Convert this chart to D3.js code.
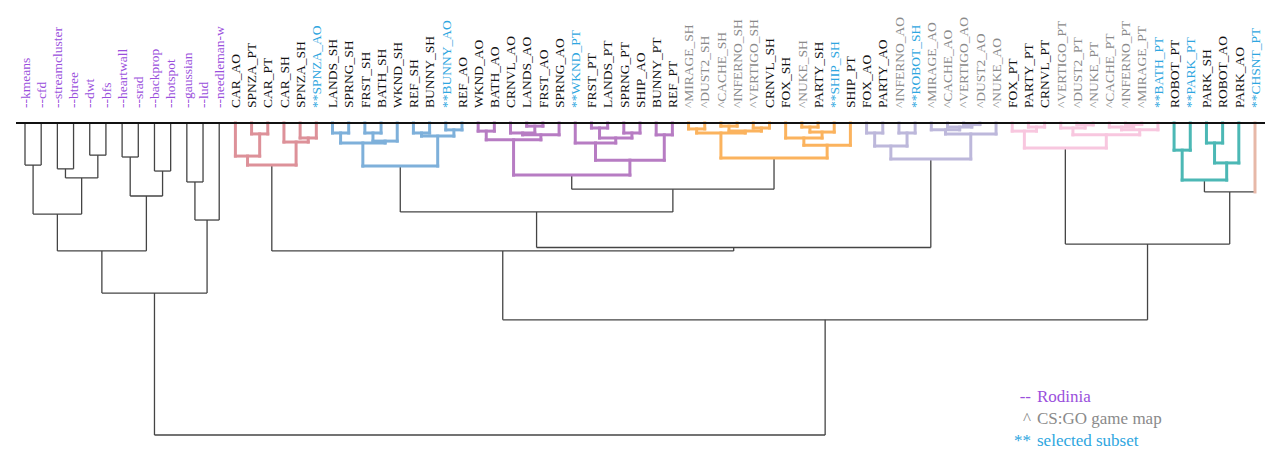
<!DOCTYPE html>
<html lang="en">

<head>
    <meta charset="UTF-8">
    <title>Dendrogram</title>
    <script src="https://cdn.jsdelivr.net/npm/d3@7"></script>
    <style>
        body {
            margin: 0;
            background: #fff;
        }

        text {
            font-family: "Liberation Serif", "Times New Roman", serif;
        }
    </style>
</head>

<body>
    <div id="chart"></div>

    <script>
        const W = 1280,
            H = 467

        // merge heights (root = 10), nested as [height, left, right], leaves are labels
        const rodinia = [5.45,
            [4.10,
                [2.92, [1.35, "--kmeans", "--cfd"],
                    [1.76, [1.47, "--streamcluster", "--btree"], [1.03, "--dwt", "--bfs"]]
                ],
                [2.34, [1.09, "--heartwall", "--srad"], [1.54, "--backprop", "--hotspot"]]
            ],
            [3.11, [1.89, "--gaussian", "--lud"], "--needleman-w"]
        ]
        const red = [1.35, [1.06, "CAR_AO", [0.35, "SPNZA_PT", "CAR_PT"]],
            [0.61, "CAR_SH", [0.48, "SPNZA_SH", "**SPNZA_AO"]]
        ]
        const blue = [1.38,
            [0.64, [0.32, "LANDS_SH", "SPRNG_SH"], [0.58, [0.32, "FRST_SH", "BATH_SH"], "WKND_SH"]],
            [0.42, [0.32, "REF_SH", "BUNNY_SH"], [0.22, "**BUNNY_AO", "REF_AO"]]
        ]
        const purple = [1.67,
            [0.54, [0.26, "WKND_AO", "BATH_AO"],
                [0.38, [0.32, "CRNVL_AO", [0.10, "LANDS_AO", "FRST_AO"]], "SPRNG_AO"]
            ],
            [1.19, [0.64, "**WKND_PT", [0.48, [0.16, "FRST_PT", "LANDS_PT"], [0.32, "SPRNG_PT", "SHIP_AO"]]],
                [0.38, "BUNNY_PT", "REF_PT"]
            ]
        ]
        const orange = [1.12,
            [0.32, [0.19, "^MIRAGE_SH", "^DUST2_SH"],
                [0.26, [0.10, "^CACHE_SH", "^INFERNO_SH"], [0.16, "^VERTIGO_SH", "CRNVL_SH"]]
            ],
            [0.71, [0.48, "FOX_SH", [0.29, [0.13, "^NUKE_SH", "PARTY_SH"], "**SHIP_SH"]], "SHIP_PT"]
        ]
        const lavender = [1.15,
            [0.74, [0.32, "FOX_AO", "PARTY_AO"], [0.32, "^INFERNO_AO", "**ROBOT_SH"]],
            [0.35, [0.22, "^MIRAGE_AO", [0.13, "^CACHE_AO", [0.05, "^VERTIGO_AO", "^DUST2_AO"]]], "^NUKE_AO"]
        ]
        const pink = [0.80,
            [0.26, "FOX_PT", [0.13, "PARTY_PT", "CRNVL_PT"]],
            [0.38, [0.16, "^VERTIGO_PT", [0.06, "^DUST2_PT", "^NUKE_PT"]],
                [0.22, [0.13, "^CACHE_PT", [0.05, "^INFERNO_PT", "^MIRAGE_PT"]], "**BATH_PT"]
            ]
        ]
        const teal = [1.83, [0.87, "ROBOT_PT", "**PARK_PT"],
            [1.28, [0.64, "PARK_SH", "ROBOT_AO"], "PARK_AO"]
        ]
        const tree = [10,
            rodinia,
            [6.31,
                [4.10, red, [3.99, [2.85, blue, [2.12, purple, orange]], lavender]],
                [3.88, pink, [2.21, teal, "**CHSNT_PT"]]
            ]
        ]

        // first leaf of each coloured cluster
        const clusterFirst = ["CAR_AO", "LANDS_SH", "WKND_AO", "^MIRAGE_SH", "FOX_AO", "FOX_PT", "ROBOT_PT", "**CHSNT_PT"]
        const palette = ["#dd9199", "#7eb0da", "#b77cc3", "#fbb35e", "#bdb8db", "#f8c7df", "#4cb8b5", "#e7b8a8"]

        const legendSymbols = ["--", "^", "**"]
        const legendLabels = ["Rodinia", "CS:GO game map", "selected subset"]

        const labelColor = name => name.startsWith("--") ? "#9a4fdc" :
            name.startsWith("^") ? "#8a8a8a" :
            name.startsWith("**") ? "#2ea6e0" : "#111"

        const root = d3.hierarchy(tree, d => Array.isArray(d) ? d.slice(1) : null)
        const leaves = root.leaves()
        const leafNames = leaves.map(d => d.data)

        const x = d3.scalePoint().domain(leafNames).range([25, 1255])
        const y = d3.scaleLinear().domain([0, 10]).range([123, 435])

        const firstIdx = clusterFirst.map(n => leafNames.indexOf(n))
        root.eachAfter(n => {
            if (!n.children) {
                n.x = x(n.data)
                n.h = 0
                const i = leafNames.indexOf(n.data)
                n.cluster = d3.bisectRight(firstIdx, i) - 1
            } else {
                n.x = d3.mean(n.children, c => c.x)
                n.h = n.data[0]
                const c0 = n.children[0].cluster,
                    c1 = n.children[1].cluster
                n.cluster = (c0 === c1) ? c0 : -1
            }
        })

        const svg = d3.select('#chart').append('svg')
            .attr('width', W)
            .attr('height', H)
            .attr('viewBox', `0 0 ${W} ${H}`)

        const segs = []
        root.each(n => {
            if (n.children) {
                segs.push({
                    x1: n.children[0].x, x2: n.children[1].x,
                    y1: y(n.h), y2: y(n.h), c: n.cluster
                })
            }
            if (n.parent) {
                let c = n.parent.cluster
                if (c < 0 && !n.children && n.cluster >= 0) c = n.cluster
                segs.push({
                    x1: n.x, x2: n.x,
                    y1: y(n.h), y2: y(n.parent.h), c: c
                })
            }
        })
        segs.sort((a, b) => (a.c >= 0) - (b.c >= 0))

        svg.append('g').selectAll('line').data(segs).join('line')
            .attr('x1', d => d.x1).attr('x2', d => d.x2)
            .attr('y1', d => d.y1).attr('y2', d => d.y2)
            .attr('stroke', d => d.c >= 0 ? palette[d.c] : '#444')
            .attr('stroke-width', d => d.c >= 0 ? 3 : 1.3)
            .attr('stroke-linecap', d => d.c >= 0 ? 'square' : 'butt')

        // top rule
        svg.append('line')
            .attr('x1', 16).attr('x2', 1265)
            .attr('y1', y(0)).attr('y2', y(0))
            .attr('stroke', '#111').attr('stroke-width', 2)

        // leaf labels
        svg.append('g').selectAll('text').data(leafNames).join('text')
            .attr('transform', d => `translate(${x(d)},108) rotate(-90)`)
            .attr('dy', '0.35em')
            .attr('font-size', 13.5)
            .attr('fill', labelColor)
            .text(d => d)

        // legend
        const lg = svg.append('g')
        const legendColors = ["#9a4fdc", "#8a8a8a", "#2ea6e0"]
        lg.selectAll('text.sym').data(legendSymbols).join('text')
            .attr('class', 'sym')
            .attr('x', 1031).attr('y', (d, i) => 402 + i * 22)
            .attr('text-anchor', 'end')
            .attr('font-size', 17)
            .attr('fill', (d, i) => legendColors[i])
            .text(d => d)
        lg.selectAll('text.lab').data(legendLabels).join('text')
            .attr('class', 'lab')
            .attr('x', 1037).attr('y', (d, i) => 402 + i * 22)
            .attr('font-size', 17)
            .attr('fill', (d, i) => legendColors[i])
            .text(d => d)
    </script>
</body>

</html>
